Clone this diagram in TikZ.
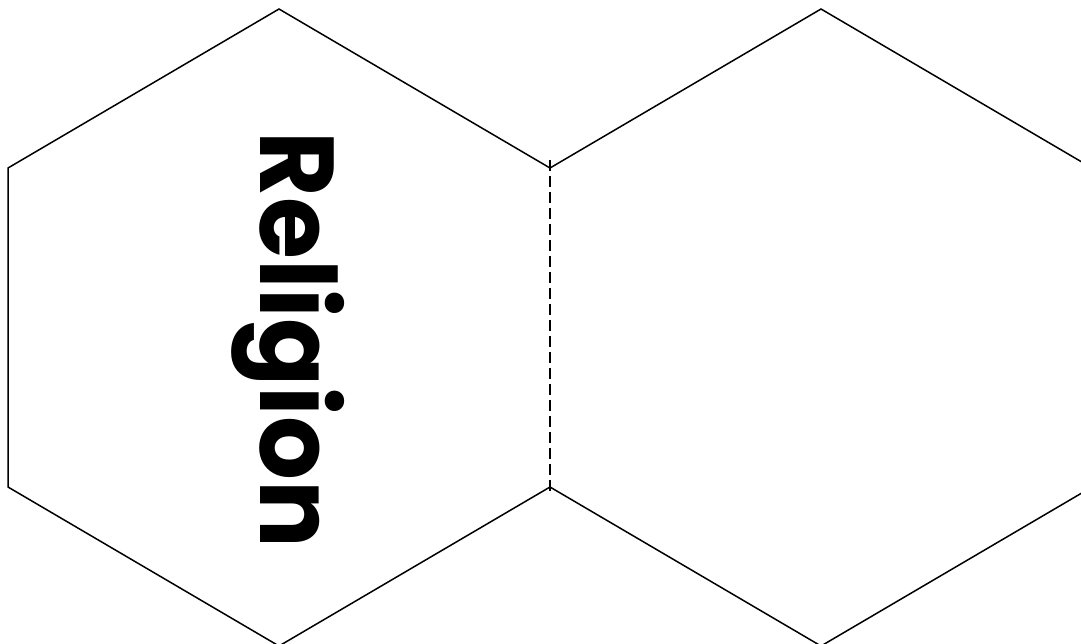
\documentclass[tikz,border=0pt]{standalone}
\usepackage{fontspec}
\newfontfamily\labelfont{Poppins}
\usepackage{graphicx}
\tikzset{
  hexline/.style={line width=1.5pt, line join=miter, black},
  foldline/.style={line width=1.5pt, dash pattern=on 11pt off 5pt, black},
  vlabel/.style={inner sep=0pt, outer sep=0pt, rotate=-90}
}
\begin{document}
\begin{tikzpicture}[x=1pt, y=-1pt]
\useasboundingbox (0,0) rectangle (1081,643);
\clip (0,0) rectangle (1081,643);
% left hexagon (shared edge omitted)
\coordinate (LT) at (279,9);
\coordinate (LUR) at (550,168);
\coordinate (LLR) at (550,487);
\coordinate (LB) at (279,646);
\coordinate (LLL) at (8,487);
\coordinate (LUL) at (8,168);
\draw[hexline] (LUR) -- (LT) -- (LUL) -- (LLL) -- (LB) -- (LLR);
% right hexagon (shared edge omitted)
\coordinate (RT) at (821,9);
\coordinate (RUR) at (1092,168);
\coordinate (RLR) at (1092,487);
\coordinate (RB) at (821,646);
\draw[hexline] (LUR) -- (RT) -- (RUR) -- (RLR) -- (RB) -- (LLR);
% fold line
\coordinate (FT) at (550,160);
\coordinate (FB) at (550,492);
\draw[foldline] (FT) -- (FB);
% label
\node[vlabel] (label) at (288.5,340) {\resizebox*{416pt}{113pt}{\labelfont\bfseries Religion}};
\end{tikzpicture}
\end{document}
